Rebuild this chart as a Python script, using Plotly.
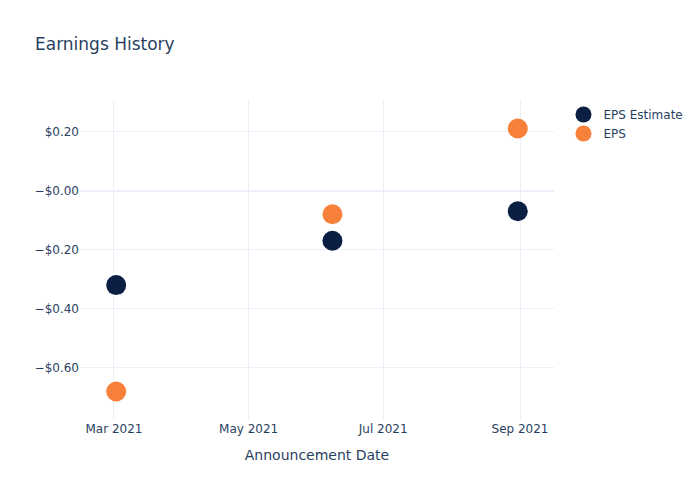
import plotly.graph_objects as go

dates = ["2021-03-02", "2021-06-08", "2021-08-31"]
eps_estimate = [-0.32, -0.17, -0.07]
eps_actual = [-0.68, -0.08, 0.21]
y_tick_vals = [-0.6, -0.4, -0.2, 0.0, 0.2]
y_tick_text = ["\u2212$0.60", "\u2212$0.40", "\u2212$0.20", "\u2212$0.00", "$0.20"]

fig = go.Figure()
fig.add_trace(go.Scatter(x=dates, y=eps_estimate, mode="markers", name="EPS Estimate",
                         marker=dict(color="#0b1f42", size=20)))
fig.add_trace(go.Scatter(x=dates, y=eps_actual, mode="markers", name="EPS",
                         marker=dict(color="#f7813a", size=20)))
fig.update_layout(
    template="plotly_white",
    width=700, height=500,
    font=dict(family="DejaVu Sans"),
    title=dict(text="Earnings History"),
    xaxis=dict(title=dict(text="Announcement Date"), dtick="M2", tickformat="%b %Y"),
    yaxis=dict(tickmode="array", tickvals=y_tick_vals, ticktext=y_tick_text),
)
fig.write_html("out.html")
